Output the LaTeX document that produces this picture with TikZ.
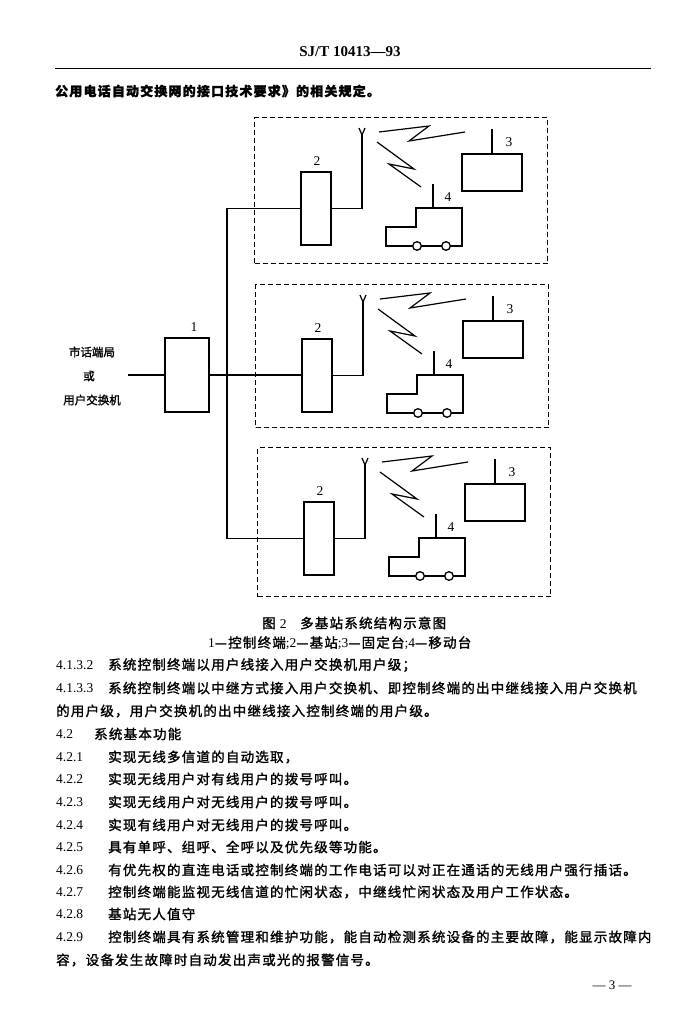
\documentclass[tikz,border=0pt]{standalone}
\usepackage{fontspec}
\setmainfont{Liberation Serif}
\newfontfamily\cjk[FakeBold=1.6]{Noto Sans CJK SC}
\newfontfamily\cjkw[LetterSpace=9,FakeBold=1.6]{Noto Sans CJK SC}
\newcommand\rmn[1]{{\rmfamily #1}}
\tikzset{
  blk/.style={draw, line width=1.7pt, inner sep=0pt, outer sep=0pt, anchor=north west},
  dbox/.style={draw, line width=1.2pt, dash pattern=on 5pt off 3pt, inner sep=0pt, anchor=north west},
  wire/.style={line width=1.2pt},
  body/.style={line width=1.7pt, line join=miter},
  lab/.style={inner sep=0pt, font=\fontsize{13.5}{15}\selectfont},
  num/.style={inner sep=0pt, anchor=west, font=\fontsize{13.5}{15}\selectfont},
  txt/.style={inner sep=0pt, anchor=west, font=\fontsize{13.5}{15}\selectfont\cjkw},
  side/.style={inner sep=0pt, font=\fontsize{11.5}{13}\selectfont\cjk},
}
\newcommand\bstation[4]{%
\begin{scope}[shift={(#2,#3)}, name prefix=#1-]
  \node[dbox, minimum width=293pt, minimum height=#4pt] (frame) at (0,0) {};
  \node[blk, minimum width=30pt, minimum height=73pt] (bs) at (47,55) {};
  \node[lab] (bsl) at (63,44) {2};
  \coordinate (ant) at (108,18);
  \draw[wire] (bs.east) -| (ant);
  \draw[wire] (105,11) -- (ant) -- (111,11);
  \draw[wire] (125,15) -- (175,9) -- (155,24) -- (211,15);
  \draw[wire] (123,25) -- (160,52) -- (135,47) -- (167,70);
  \node[blk, minimum width=60pt, minimum height=37pt] (fs) at (208,37) {};
  \draw[wire] (fs.north) -- ++(0,-25);
  \node[lab] (fsl) at (255,25) {3};
  \draw[body] (132,110) -- (162,110) -- (162,91) -- (208,91) -- (208,129) -- (132,129) -- cycle;
  \draw[wire] (179,91) -- (179,67);
  \draw[line width=1.3pt, fill=white] (163,129) circle[radius=4.3pt];
  \draw[line width=1.3pt, fill=white] (192,129) circle[radius=4.3pt];
  \node[lab] (msl) at (194,80) {4};
\end{scope}}
\begin{document}
\begin{tikzpicture}[x=1pt, y=-1pt]
\fill[white] (0,0) rectangle (698,1024);
\useasboundingbox (0,0) rectangle (698,1024);
% header
\node[inner sep=0pt, font=\bfseries\fontsize{15}{17}\selectfont] (hdr) at (350,52) {SJ/T 10413—93};
\draw[line width=0.9pt] (55,68) -- (651,68);
\draw[line width=1.8pt] (55,68.5) -- (110,68.5);
\node[txt, font=\fontsize{13}{15}\selectfont\cjkw\bfseries] (intro) at (55,91) {公用电话自动交换网的接口技术要求》的相关规定。};
% stations
\bstation{a}{254}{117}{146}
\bstation{b}{255}{284}{143}
\bstation{c}{257}{447}{149}
% control terminal
\node[blk, minimum width=44pt, minimum height=74pt] (ctl) at (165,338) {};
\node[lab] (ctll) at (194,327) {1};
\coordinate (ext) at (128,375);
\draw[wire] (ext) -- (ctl.west);
\draw[wire] (ctl.east) -- (ctl.east -| b-bs.west);
\coordinate (tr) at (227,0);
\draw[wire] (a-bs.west) -- (a-bs.west -| tr) -- (c-bs.west -| tr) -- (c-bs.west);
\node[side] (l1) at (92,352) {市话端局};
\node[side] (l2) at (89,376) {或};
\node[side] (l3) at (92,400) {用户交换机};
% caption
\node[txt] (cap1) at (262,623) {图\ \rmn{2}\quad 多基站系统结构示意图};
\node[txt] (cap2) at (208,643) {\rmn{1}—控制终端\rmn{;}\rmn{2}—基站\rmn{;}\rmn{3}—固定台\rmn{;}\rmn{4}—移动台};
% body
\node[num] (n1) at (56,665) {4.1.3.2};
\node[txt] (t1) at (108,665) {系统控制终端以用户线接入用户交换机用户级；};
\node[num] (n2) at (56,688) {4.1.3.3};
\node[txt] (t2) at (108,688) {系统控制终端以中继方式接入用户交换机、即控制终端的出中继线接入用户交换机};
\node[txt] (t2b) at (56,711) {的用户级，用户交换机的出中继线接入控制终端的用户级。};
\node[num] (n3) at (56,734) {4.2};
\node[txt] (t3) at (94,734) {系统基本功能};
\node[num] (n4) at (56,757) {4.2.1};
\node[txt] (t4) at (108,757) {实现无线多信道的自动选取，};
\node[num] (n5) at (56,779) {4.2.2};
\node[txt] (t5) at (108,779) {实现无线用户对有线用户的拨号呼叫。};
\node[num] (n6) at (56,802) {4.2.3};
\node[txt] (t6) at (108,802) {实现无线用户对无线用户的拨号呼叫。};
\node[num] (n7) at (56,825) {4.2.4};
\node[txt] (t7) at (108,825) {实现有线用户对无线用户的拨号呼叫。};
\node[num] (n8) at (56,847) {4.2.5};
\node[txt] (t8) at (108,847) {具有单呼、组呼、全呼以及优先级等功能。};
\node[num] (n9) at (56,870) {4.2.6};
\node[txt] (t9) at (108,870) {有优先权的直连电话或控制终端的工作电话可以对正在通话的无线用户强行插话。};
\node[num] (n10) at (56,892) {4.2.7};
\node[txt] (t10) at (108,892) {控制终端能监视无线信道的忙闲状态，中继线忙闲状态及用户工作状态。};
\node[num] (n11) at (56,914) {4.2.8};
\node[txt] (t11) at (108,914) {基站无人值守};
\node[num] (n12) at (56,937) {4.2.9};
\node[txt] (t12) at (108,937) {控制终端具有系统管理和维护功能，能自动检测系统设备的主要故障，能显示故障内};
\node[txt] (t12b) at (56,960) {容，设备发生故障时自动发出声或光的报警信号。};
\node[inner sep=0pt, font=\fontsize{13}{15}\selectfont] (pg) at (612,985) {— 3 —};
\end{tikzpicture}
\end{document}
